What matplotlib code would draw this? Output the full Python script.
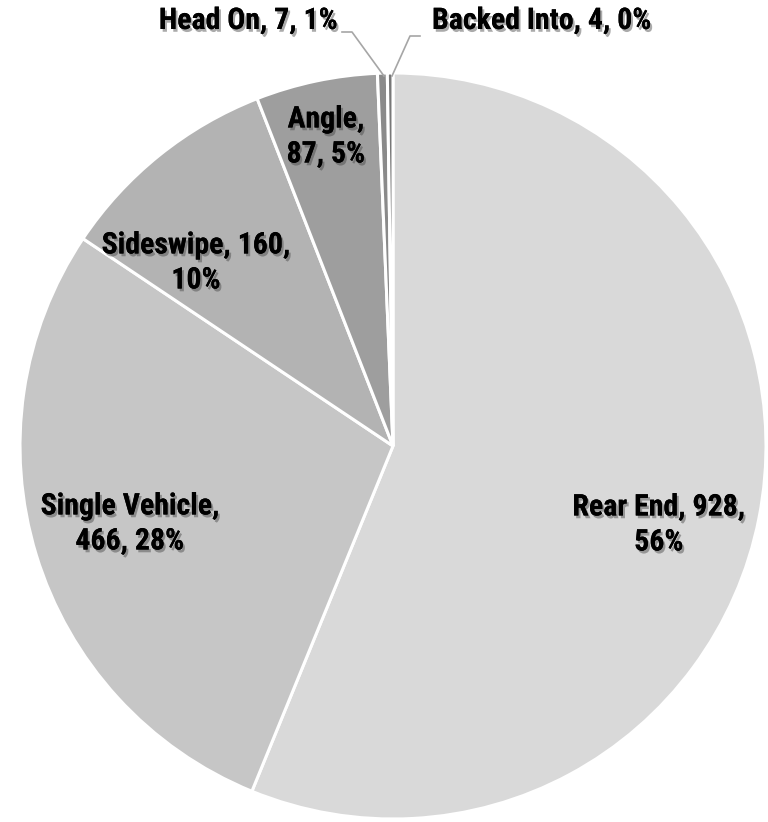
import matplotlib
matplotlib.use("Agg")
import matplotlib.pyplot as plt
import matplotlib.patheffects as pe
from matplotlib import font_manager

# Dữ liệu
categories = ["Rear End", "Single Vehicle", "Sideswipe", "Angle", "Head On", "Backed Into"]
counts = [928, 466, 160, 87, 7, 4]
pcts = ["56%", "28%", "10%", "5%", "1%", "0%"]
colors = ["#d9d9d9", "#c6c6c6", "#b3b3b3", "#9e9e9e", "#8a8a8a", "#777777"]

names = {f.name for f in font_manager.fontManager.ttflist}
fam = [n for n in ["Liberation Sans Narrow", "Roboto Condensed", "Arial Narrow"] if n in names]
fam += ["Liberation Sans", "DejaVu Sans"]
plt.rcParams["font.family"] = fam

fig = plt.figure(figsize=(7.68, 8.22), dpi=100)
cx, cy, r = 393, 446, 373
ax = fig.add_axes([(cx - r) / 768, (822 - cy - r) / 822, 2 * r / 768, 2 * r / 822])

wedges, _ = ax.pie(counts, colors=colors, startangle=90, counterclock=False,
                   wedgeprops=dict(edgecolor="white", linewidth=2.2))
ax.set_xlim(-1, 1)
ax.set_ylim(-1, 1)
ax.set_aspect("equal")
ax.axis("off")

shadow = [pe.withSimplePatchShadow(offset=(1.5, -2), shadow_rgbFace="#444444", alpha=0.45), pe.Normal()]
kw = dict(fontsize=21.5, fontweight="bold", ha="center", va="center",
          linespacing=1.32, path_effects=shadow)

def px(x, y):
    return ((x - cx) / r, (cy - y) / r)

# Nhãn bên trong
ax.text(*px(659, 525), f"{categories[0]}, {counts[0]},\n{pcts[0]}", **kw)
ax.text(*px(130, 524), f"{categories[1]},\n{counts[1]}, {pcts[1]}", **kw)
ax.text(*px(196, 263), f"{categories[2]}, {counts[2]},\n{pcts[2]}", **kw)
ax.text(*px(326, 137), f"{categories[3]},\n{counts[3]}, {pcts[3]}", **kw)

# Nhãn bên ngoài với đường dẫn
kw_out = dict(kw)
kw_out.update(ha="right")
ax.text(*px(338, 21), f"{categories[4]}, {counts[4]}, {pcts[4]}", clip_on=False, **kw_out)
kw_out.update(ha="left")
ax.text(*px(432, 21), f"{categories[5]}, {counts[5]}, {pcts[5]}", clip_on=False, **kw_out)

for pts in ([(342, 32), (352, 32), (384, 76)], [(420, 36), (410, 36), (392, 76)]):
    xs, ys = zip(*[px(a, b) for a, b in pts])
    ax.plot(xs, ys, color="#a6a6a6", lw=1.2, clip_on=False)

fig.savefig("out.png", dpi=100)
